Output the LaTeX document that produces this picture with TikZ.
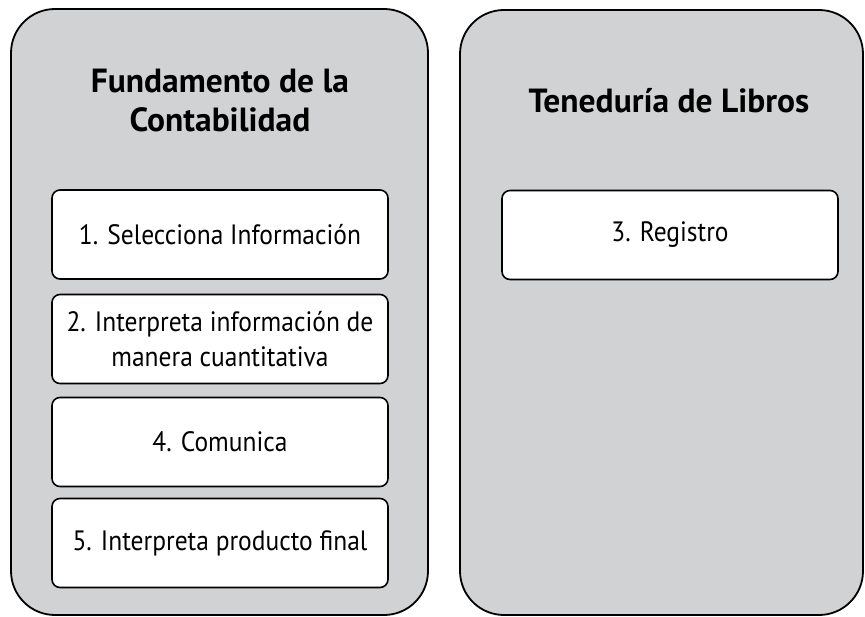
\documentclass[tikz,border=0pt]{standalone}
\usepackage{fontspec}
\setmainfont{PT Sans}
\newfontfamily\condfont[FakeStretch=0.91]{PT Sans}
\definecolor{panelgrey}{RGB}{209,210,212}
\begin{document}
\begin{tikzpicture}[x=1pt,y=-1pt,
  panel/.style={draw=black,line width=1.8pt,fill=panelgrey,rounded corners=44pt},
  itembox/.style={draw=black,line width=1.6pt,fill=white,rounded corners=8pt,
     minimum width=336pt,minimum height=89pt,align=center,inner sep=0pt,
     font=\condfont\fontsize{28}{35}\selectfont},
  titletext/.style={align=center,font=\fontsize{33.5}{39}\selectfont\bfseries}]
\useasboundingbox (0,0) rectangle (865,617);
\path[panel] (11,9) rectangle (428,615);
\path[panel] (460,10) rectangle (863,615);
\node[titletext] (t1) at (220,101) {Fundamento de la\\Contabilidad};
\node[titletext] (t2) at (669,101) {Teneduría de Libros};
\node[itembox] (b1) at (220,234.5) {1. Selecciona Información};
\node[itembox] (b2) at (220,339) {2. Interpreta información de\\manera cuantitativa};
\node[itembox] (b4) at (220,442) {4. Comunica};
\node[itembox] (b5) at (220,543) {5. Interpreta producto final};
\node[itembox] (b3) at (670,235) {3. Registro};
\end{tikzpicture}
\end{document}
